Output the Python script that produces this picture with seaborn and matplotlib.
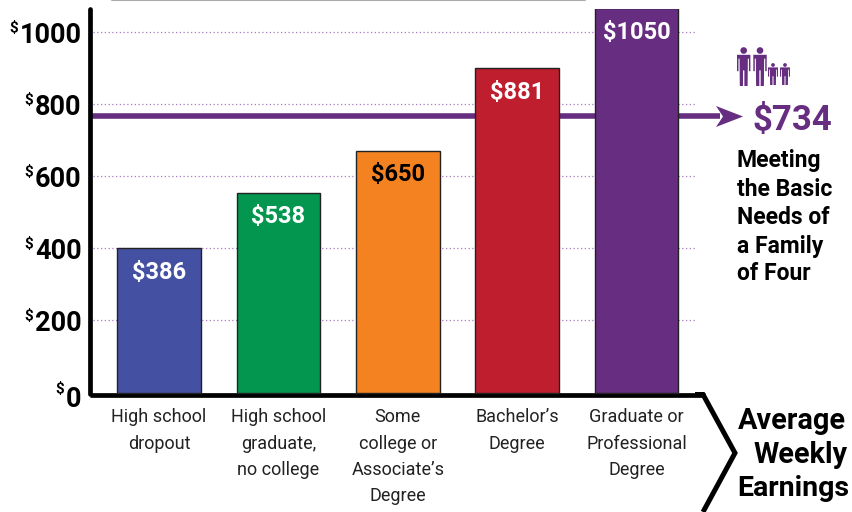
import matplotlib
matplotlib.use('Agg')
import matplotlib.pyplot as plt
from matplotlib.patches import Circle, Polygon
from matplotlib.transforms import ScaledTranslation
import pandas as pd
import seaborn as sns

categories = ['High school\ndropout', 'High school\ngraduate,\nno college', 'Some\ncollege or\nAssociate’s\nDegree',
              'Bachelor’s\nDegree', 'Graduate or\nProfessional\nDegree']
bar_heights = [400, 555, 672, 900, 1067]
bar_labels = ['$386', '$538', '$650', '$881', '$1050']
label_colors = ['white', 'white', 'black', 'white', 'white']
bar_colors = ['#4451A3', '#03964F', '#F58220', '#BE1E2D', '#662D80']
y_ticks = [0, 200, 400, 600, 800, 1000]
needs_level = 768
PURPLE = '#662D80'
FONT = ['Roboto', 'DejaVu Sans']


def draw_person(ov, cx, top, h, w):
    # little figure for the family icon, h is height and w half the width in pixels
    ov.add_patch(Circle((cx, top + h * 0.09), h * 0.085, color=PURPLE, lw=0))
    pts = [(-w, .2), (w, .2), (w, .62), (w * .78, .62), (w * .78, .3), (w * .62, .3), (w * .58, 1),
           (w * .1, 1), (w * .1, .6), (-w * .1, .6), (-w * .1, 1), (-w * .58, 1), (-w * .62, .3),
           (-w * .78, .3), (-w * .78, .62), (-w, .62)]
    ov.add_patch(Polygon([(cx + x, top + y * h) for x, y in pts], color=PURPLE, lw=0))


def main():

    sns.set_theme(style='white')
    plt.rcParams['font.family'] = FONT

    fig = plt.figure(figsize=(8.52, 5.12), dpi=100)
    # axes box placed in pixels: left 90, right 705, top 9, bottom 394.5
    ax = fig.add_axes([90 / 852, 1 - 394.5 / 512, 615 / 852, 385.5 / 512])

    df = pd.DataFrame({'category': categories, 'height': bar_heights})
    sns.barplot(data=df, x='category', y='height', hue='category', palette=bar_colors, legend=False,
                width=0.7, edgecolor='#222222', linewidth=1, saturation=1, ax=ax, zorder=3)

    ax.set_xlim((90 - 159) / 119.4, (705 - 159) / 119.4)
    ax.set_ylim(-5.5, 1065)
    ax.set_xlabel('')
    ax.set_ylabel('')

    for container, text, color in zip(ax.containers, bar_labels, label_colors):
        for ann in ax.bar_label(container, labels=[text], padding=-17.5, color=color,
                                fontsize=17, fontweight='bold', zorder=5):
            ann.set_va('center')
            ann.set_annotation_clip(False)

    ax.hlines(y_ticks[1:], -0.55, 4.49, color='#A77CC0', linestyle=(0, (1, 2)), linewidth=0.9, zorder=1)
    ax.hlines(needs_level, -0.57, 4.7, color=PURPLE, linewidth=4, zorder=2, clip_on=False)

    ax.set_yticks(y_ticks, [str(v) for v in y_ticks], fontsize=19.5, fontweight='bold', color='black')
    ax.tick_params(axis='y', length=0, pad=6)
    ax.tick_params(axis='x', length=0, pad=10, labelsize=13, labelcolor='#222222')
    for lab in ax.get_xticklabels():
        lab.set_linespacing(1.58)
    # the $0 label sits a little under its tick in the reference
    zero = ax.get_yticklabels()[0]
    zero.set_transform(zero.get_transform() + ScaledTranslation(0, -3 / 72, fig.dpi_scale_trans))

    sns.despine(ax=ax)
    ax.spines['left'].set_linewidth(3.4)
    ax.spines['left'].set_color('black')
    ax.spines['left'].set_capstyle('round')
    ax.spines['bottom'].set_linewidth(3.4)
    ax.spines['bottom'].set_color('black')
    ax.spines['bottom'].set_capstyle('butt')

    # everything outside the plot box goes on an overlay in pixel coordinates
    ov = fig.add_axes([0, 0, 1, 1], zorder=10)
    ov.set_xlim(0, 852)
    ov.set_ylim(512, 0)
    ov.axis('off')
    ov.patch.set_alpha(0)

    ov.plot([112, 585], [0, 0], color='#AAAAAA', lw=1.5)
    ov.plot([695, 703, 735, 703], [394.5, 394.5, 453, 512], color='black', lw=3.6, solid_joinstyle='miter',
            solid_capstyle='butt')
    ov.add_patch(Polygon([(716, 106), (743, 116.5), (716, 127), (723, 116.5)], color=PURPLE, lw=0))

    for x, y in [(18, 28), (33, 100), (33, 172), (33, 244), (33, 316), (64, 389)]:
        ov.text(x, y, '$', ha='right', va='center', fontsize=11, fontweight='bold', color='black')

    for cx, top, h, w in [(743.7, 47, 39, 6.7), (760, 47, 39, 6.7), (773, 63, 22, 5), (785, 63, 22, 5)]:
        draw_person(ov, cx, top, h, w)

    ov.text(792.5, 120, '$734', ha='center', va='center', fontsize=25, fontweight='bold', color=PURPLE)
    for y, line in zip([161, 189, 217, 246, 273], ['Meeting', 'the Basic', 'Needs of', 'a Family', 'of Four']):
        ov.text(737, y, line, ha='left', va='center', fontsize=16.5, fontweight='bold', color='black')

    ov.text(738, 421, 'Average', ha='left', va='center', fontsize=20.8, fontweight='bold', color='black')
    ov.text(848, 455, 'Weekly', ha='right', va='center', fontsize=20.8, fontweight='bold', color='black')
    ov.text(737, 489, 'Earnings', ha='left', va='center', fontsize=20.5, fontweight='bold', color='black')

    fig.savefig('out.png', dpi=100)


if __name__ == '__main__':
    main()
